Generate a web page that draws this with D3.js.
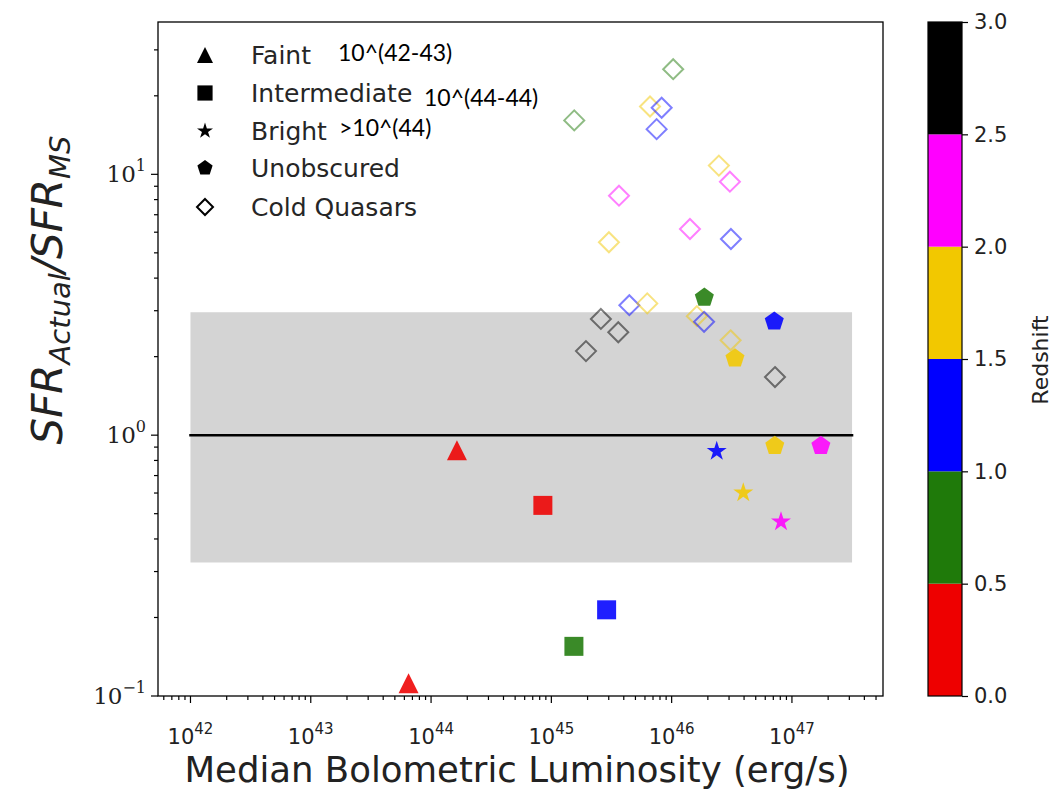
<!DOCTYPE html>
<html><head><meta charset="utf-8">
<script src="https://cdn.jsdelivr.net/npm/d3@7"></script>
<style>body{margin:0;background:#fff}</style>
</head><body><svg id="chart" width="1057" height="793"></svg>
<script>
// Redshift colour bins
const redshiftEdges = [0.5, 1.0, 1.5, 2.0, 2.5];
const redshiftColors = ["#ee0000", "#1f7a0a", "#0000ff", "#f2c800", "#ff00ff", "#000000"];
const colorbarTicks = [0.0, 0.5, 1.0, 1.5, 2.0, 2.5, 3.0];

// Axis tick exponents
const xTickExponents = [42, 43, 44, 45, 46, 47];
const yTickExponents = [-1, 0, 1];

// Main-sequence band and reference line
const bandLum = [1e42, 3.16e47];
const bandRatio = [0.325, 2.96];
const msRatio = 1.0;

// Faint AGN
const faintLum = [6.5e43, 1.64e44];
const faintRatio = [0.112, 0.876];
const faintZ = [0.25, 0.25];

// Intermediate AGN
const interLum = [8.5e44, 1.54e45, 2.88e45];
const interRatio = [0.538, 0.155, 0.214];
const interZ = [0.25, 0.75, 1.25];

// Bright AGN
const brightLum = [2.37e46, 3.94e46, 8.11e46];
const brightRatio = [0.868, 0.601, 0.466];
const brightZ = [1.25, 1.75, 2.25];

// Unobscured AGN
const unobsLum = [1.87e46, 7.13e46, 3.36e46, 7.2e46, 1.74e47];
const unobsRatio = [3.37, 2.73, 1.97, 0.91, 0.91];
const unobsZ = [0.75, 1.25, 1.75, 1.75, 2.25];

// Cold quasars
const cqLum = [1.03e46, 1.55e45, 6.61e45, 8.26e45, 7.50e45, 2.47e46, 3.05e46, 3.65e45, 1.42e46, 3.11e46,
               3.01e45, 4.45e45, 6.27e45, 2.58e45, 3.60e45, 1.94e45, 1.62e46, 1.86e46, 3.09e46, 7.23e46];
const cqRatio = [25.3, 16.1, 18.2, 18.0, 14.9, 10.8, 9.37, 8.28, 6.17, 5.65,
                 5.49, 3.15, 3.20, 2.79, 2.48, 2.10, 2.86, 2.72, 2.31, 1.67];
const cqZ = [0.75, 0.75, 1.75, 1.25, 1.25, 1.75, 2.25, 2.25, 2.25, 1.25,
             1.75, 1.25, 1.75, 2.75, 2.75, 2.75, 1.75, 1.25, 1.75, 2.75];

// Legend entries
const legendLabels = ["Faint", "Intermediate", "Bright", "Unobscured", "Cold Quasars"];
const legendShapes = ["triangle", "square", "star", "pentagon", "diamond"];
const rangeNotes = ["10^(42-43)", "10^(44-44)", ">10^(44)"];

const svg = d3.select("#chart");
const plot = {left: 158, right: 883, top: 22, bottom: 696};

const x = d3.scaleLog().domain([Math.pow(10, 41.73), Math.pow(10, 47.757)]).range([plot.left, plot.right]);
const y = d3.scaleLog().domain([0.1, Math.pow(10, 1.584)]).range([plot.bottom, plot.top]);
const color = d3.scaleThreshold().domain(redshiftEdges).range(redshiftColors);

// Marker path builders (centered on origin)
function shapePath(kind, s) {
  if (kind === "triangle") return `M0,${-s}L${s},${s}L${-s},${s}Z`;
  if (kind === "square") return `M${-s},${-s}H${s}V${s}H${-s}Z`;
  if (kind === "diamond") return `M0,${-s}L${s},0L0,${s}L${-s},0Z`;
  if (kind === "pentagon") {
    const pts = d3.range(5).map(i => {
      const a = -Math.PI / 2 + i * 2 * Math.PI / 5;
      return [s * Math.cos(a), s * Math.sin(a)];
    });
    return "M" + pts.map(p => p.join(",")).join("L") + "Z";
  }
  if (kind === "star") {
    const inner = s * 0.381966;
    const pts = d3.range(10).map(i => {
      const r = i % 2 === 0 ? s : inner;
      const a = -Math.PI / 2 + i * Math.PI / 5;
      return [r * Math.cos(a), r * Math.sin(a)];
    });
    return "M" + pts.map(p => p.join(",")).join("L") + "Z";
  }
}
const markerSize = {triangle: 10, square: 9.5, star: 10.5, pentagon: 10, diamond: 10};

// Band and line
svg.append("rect")
  .attr("x", x(bandLum[0])).attr("y", y(bandRatio[1]))
  .attr("width", x(bandLum[1]) - x(bandLum[0]))
  .attr("height", y(bandRatio[0]) - y(bandRatio[1]))
  .attr("fill", "#d4d4d4");
svg.append("line")
  .attr("x1", x(bandLum[0])).attr("x2", x(bandLum[1]))
  .attr("y1", y(msRatio)).attr("y2", y(msRatio))
  .attr("stroke", "#000").attr("stroke-width", 2.5).attr("stroke-linecap", "square");

// Axes ticks (log major + minor)
const gAx = svg.append("g");
d3.range(41, 48).forEach(e => {
  for (let m = 1; m <= 9; m++) {
    const px = x(m * Math.pow(10, e));
    if (px < plot.left - 0.5 || px > plot.right + 0.5) continue;
    gAx.append("line").attr("x1", px).attr("x2", px)
      .attr("y1", plot.bottom).attr("y2", plot.bottom + (m === 1 ? 7 : 4))
      .attr("stroke", "#000").attr("stroke-width", 1.2);
  }
});
d3.range(-1, 2).forEach(e => {
  for (let m = 1; m <= 9; m++) {
    const py = y(m * Math.pow(10, e));
    if (py < plot.top - 0.5 || py > plot.bottom + 0.5) continue;
    gAx.append("line").attr("y1", py).attr("y2", py)
      .attr("x1", plot.left).attr("x2", plot.left - (m === 1 ? 7 : 4))
      .attr("stroke", "#000").attr("stroke-width", 1.2);
  }
});

// X tick labels
xTickExponents.forEach(e => {
  const t = gAx.append("text").attr("x", x(Math.pow(10, e))).attr("y", 744)
    .attr("text-anchor", "middle").attr("font-family", "DejaVu Sans").attr("font-size", 21).attr("fill", "#222");
  t.append("tspan").text("10");
  t.append("tspan").attr("dy", -10).attr("font-size", 15).text(String(e));
});
// Y tick labels
yTickExponents.forEach(e => {
  const t = gAx.append("text").attr("x", 146).attr("y", y(Math.pow(10, e)) + 8)
    .attr("text-anchor", "end").attr("font-family", "DejaVu Serif").attr("font-size", 23).attr("fill", "#222");
  t.append("tspan").text("10");
  t.append("tspan").attr("dy", -11).attr("font-size", 16).text(String(e).replace("-", "\u2212"));
});

// Scatter points
function drawGroup(lum, ratio, z, kind, open) {
  svg.append("g").selectAll("path").data(lum.map((l, i) => ({l, r: ratio[i], z: z[i]})))
    .join("path")
    .attr("transform", d => `translate(${x(d.l)},${y(d.r)})`)
    .attr("d", shapePath(kind, markerSize[kind]))
    .attr("fill", d => open ? "none" : color(d.z))
    .attr("fill-opacity", 0.88)
    .attr("stroke", d => color(d.z))
    .attr("stroke-opacity", open ? 0.5 : 0)
    .attr("stroke-width", open ? 2 : 0);
}
drawGroup(cqLum, cqRatio, cqZ, "diamond", true);
drawGroup(faintLum, faintRatio, faintZ, "triangle", false);
drawGroup(interLum, interRatio, interZ, "square", false);
drawGroup(brightLum, brightRatio, brightZ, "star", false);
drawGroup(unobsLum, unobsRatio, unobsZ, "pentagon", false);

// Plot frame
svg.append("rect").attr("x", plot.left).attr("y", plot.top)
  .attr("width", plot.right - plot.left).attr("height", plot.bottom - plot.top)
  .attr("fill", "none").attr("stroke", "#000").attr("stroke-width", 1.3);

// Legend
const legendY = [55, 93, 131, 168, 207];
const lg = svg.append("g");
legendLabels.forEach((lab, i) => {
  const k = legendShapes[i];
  lg.append("path").attr("transform", `translate(205,${legendY[i]})`)
    .attr("d", shapePath(k, markerSize[k] * 0.8))
    .attr("fill", k === "diamond" ? "none" : "#000")
    .attr("stroke", "#000").attr("stroke-width", k === "diamond" ? 2 : 0);
  lg.append("text").attr("x", 251).attr("y", legendY[i] + 9)
    .attr("font-family", "DejaVu Sans").attr("font-size", 25).attr("fill", "#262626").text(lab);
});
// Luminosity range notes
const noteX = [338, 424, 339], noteY = [61, 106, 136];
rangeNotes.forEach((n, i) => {
  lg.append("text").attr("x", noteX[i]).attr("y", noteY[i])
    .attr("font-family", "Lato").attr("font-size", 23).attr("fill", "#000").text(n);
});

// Axis titles
svg.append("text").attr("x", 517).attr("y", 782).attr("text-anchor", "middle")
  .attr("font-family", "DejaVu Sans").attr("font-size", 35.5).attr("fill", "#222")
  .text("Median Bolometric Luminosity (erg/s)");

const yl = svg.append("text").attr("transform", "translate(62,290) rotate(-90)")
  .attr("text-anchor", "middle").attr("font-family", "DejaVu Sans").attr("font-style", "italic")
  .attr("font-size", 42).attr("fill", "#222");
yl.append("tspan").text("SFR");
yl.append("tspan").attr("dy", 8).attr("font-size", 29).text("Actual");
yl.append("tspan").attr("dy", -8).text("/SFR");
yl.append("tspan").attr("dy", 8).attr("font-size", 29).text("MS");

// Colorbar
const cb = {left: 928, right: 962, top: 22, bottom: 696};
const zScale = d3.scaleLinear().domain([0, 3]).range([cb.bottom, cb.top]);
const cbEdges = [0].concat(redshiftEdges, [3]);
redshiftColors.forEach((c, i) => {
  svg.append("rect").attr("x", cb.left).attr("width", cb.right - cb.left)
    .attr("y", zScale(cbEdges[i + 1])).attr("height", zScale(cbEdges[i]) - zScale(cbEdges[i + 1]))
    .attr("fill", c);
});
svg.append("rect").attr("x", cb.left).attr("y", cb.top).attr("width", cb.right - cb.left)
  .attr("height", cb.bottom - cb.top).attr("fill", "none").attr("stroke", "#000").attr("stroke-width", 1.2);
const cbAxis = d3.axisRight(zScale).tickValues(colorbarTicks).tickFormat(d3.format(".1f")).tickSize(6).tickPadding(6);
const cbg = svg.append("g").attr("transform", `translate(${cb.right},0)`).call(cbAxis);
cbg.select(".domain").remove();
cbg.selectAll("text").attr("font-family", "DejaVu Sans").attr("font-size", 21).attr("fill", "#222");
cbg.selectAll("line").attr("stroke-width", 1.2);
svg.append("text").attr("transform", "translate(1048,360) rotate(-90)").attr("text-anchor", "middle")
  .attr("font-family", "DejaVu Sans").attr("font-size", 22).attr("fill", "#222").text("Redshift");
</script></body></html>
